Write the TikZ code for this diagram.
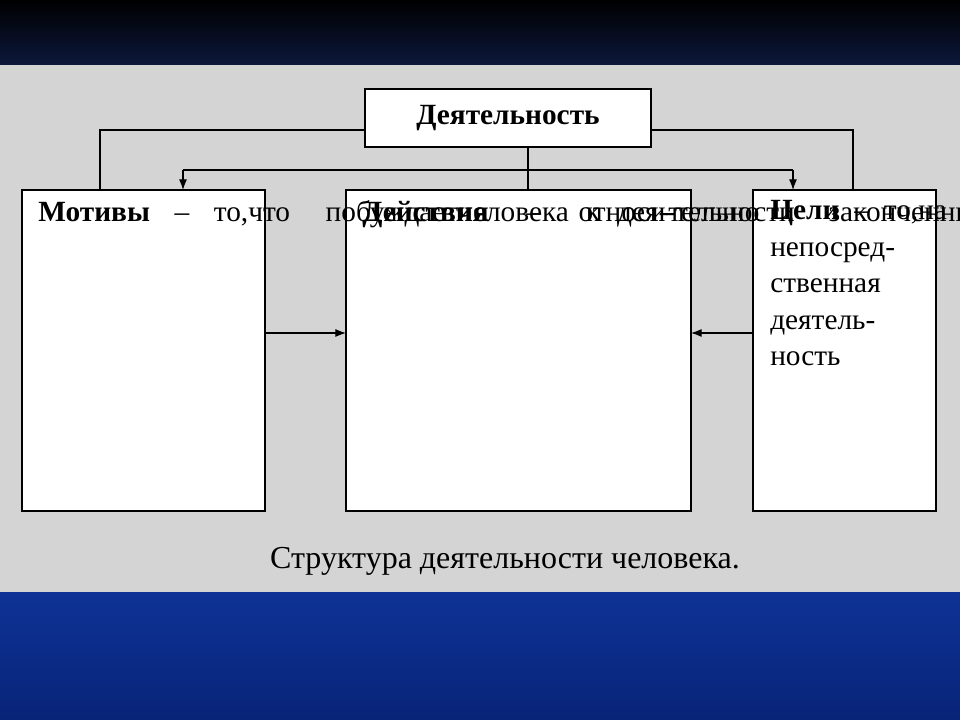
\documentclass[tikz,border=0pt]{standalone}
\usepackage{fontspec}
\setmainfont{Liberation Serif}
\usetikzlibrary{arrows.meta}
\definecolor{bgray}{RGB}{212,212,212}
\definecolor{navyA}{RGB}{12,24,60}
\definecolor{blueA}{RGB}{14,50,150}
\definecolor{blueB}{RGB}{8,36,120}
\newcommand{\jl}[1]{\hbox to \linewidth{\spaceskip=0.25em plus 1fil\relax #1}}
\begin{document}
\begin{tikzpicture}[x=0.75pt,y=-0.75pt,
  box/.style={draw=black,line width=0.8pt,fill=white},
  con/.style={line width=0.8pt},
  arr/.style={con,-{Latex[length=8pt,width=6pt]}},
  txt/.style={anchor=north west,inner sep=0pt,align=left,font=\fontsize{22}{27.4}\selectfont}]
\useasboundingbox (0,0) rectangle (960,720);
\shade[top color=black,bottom color=navyA] (0,0) rectangle (960,65);
\fill[bgray] (0,65) rectangle (960,592);
\shade[top color=blueA,bottom color=blueB] (0,592) rectangle (960,720);
% boxes
\draw[box] (365,89) rectangle (651,147);
\node[font=\fontsize{22}{24}\selectfont\bfseries] (top) at (508,118) {Деятельность};
\coordinate (topL) at (365,130); \coordinate (topR) at (651,130);
\coordinate (topB) at (528,147);
\draw[box] (22,190) rectangle (265,511);
\draw[box] (346,190) rectangle (691,511);
\draw[box] (753,190) rectangle (936,511);
\coordinate (lR) at (265,333); \coordinate (cL) at (346,333);
\coordinate (rL) at (753,333); \coordinate (cR) at (691,333);
\coordinate (lT) at (183,190); \coordinate (rT) at (793,190);
\coordinate (cT) at (528,190);
\coordinate (lT2) at (100,190); \coordinate (rT2) at (853,190);
\coordinate (lM) at (183,170); \coordinate (rM) at (793,170);
% connectors
\draw[con] (topL) -| (lT2);
\draw[con] (topR) -| (rT2);
\draw[con] (topB) -- (cT);
\draw[con] (lM) -- (rM);
\draw[arr] (lM) -- (lT);
\draw[arr] (rM) -- (rT);
\draw[arr] (lR) -- (cL);
\draw[arr] (rL) -- (cR);
% texts
\node[txt,text width=157.5pt] (tl) at (38,200) {%
\jl{\textbf{Мотивы} – то,}\jl{что побуждает}\jl{человека к дея-}тельности};
\node[txt,text width=234.75pt] (tc) at (362,200) {%
\jl{\textbf{Действия} – относи-}\jl{тельно законченные}\jl{элементы деятельно-}\jl{сти, направленные на}\jl{достижение промежу-}\jl{точных целей, подчи-}\jl{ненные общему за-}мыслу};
\node[txt,text width=111pt] (tr) at (770,200) {%
\jl{\textbf{Цели} – то,}\jl{на что на-}правлена\\непосред-\\ственная\\деятель-\\ность};
\node[font=\fontsize{24}{26}\selectfont] (cap) at (505,561) {Структура деятельности человека.};
\end{tikzpicture}
\end{document}
